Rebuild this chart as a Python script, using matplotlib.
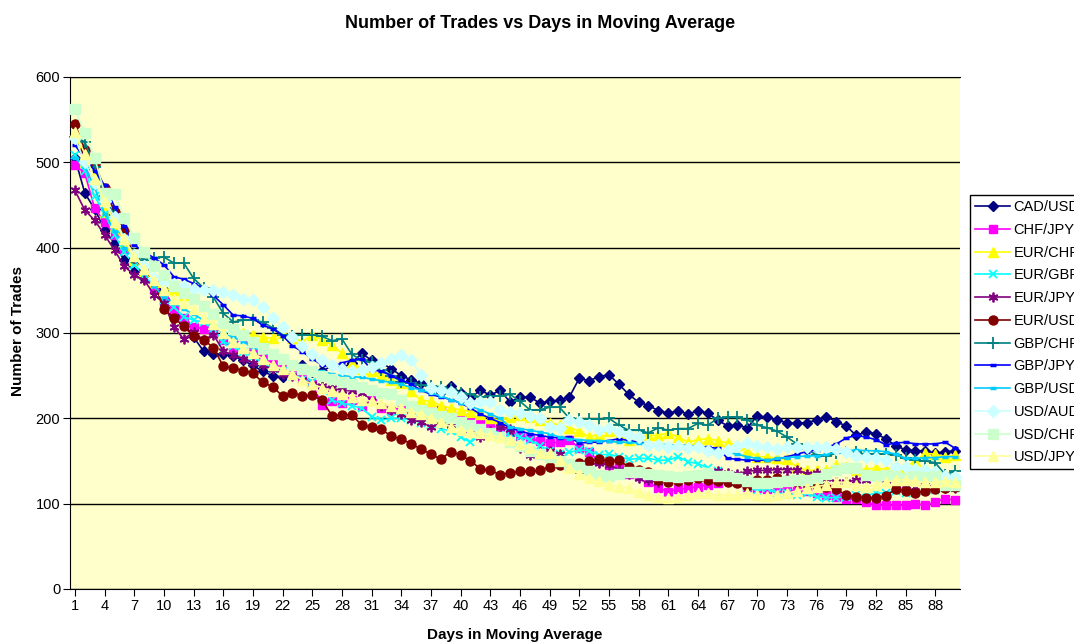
import matplotlib
matplotlib.use("Agg")
import matplotlib.pyplot as plt
import numpy as np

plt.rcParams['font.family'] = ['Liberation Sans', 'DejaVu Sans']

days = list(range(1, 91))

cad_usd = [505, 464, 445, 421, 405, 385, 372, 365, 355, 350,
           330, 312, 295, 279, 275, 275, 273, 268, 262, 255,
           250, 248, 252, 263, 254, 255, 262, 259, 265, 276,
           268, 265, 258, 250, 245, 241, 235, 231, 238, 230,
           224, 233, 227, 233, 219, 225, 225, 218, 220, 221,
           225, 247, 244, 249, 251, 240, 228, 219, 215, 209,
           206, 209, 205, 209, 206, 198, 191, 192, 189, 203,
           201, 198, 195, 194, 195, 198, 202, 196, 191, 180,
           184, 182, 176, 168, 163, 162, 162, 159, 161, 162]
chf_jpy = [497, 487, 446, 430, 415, 398, 385, 370, 352, 338,
           328, 318, 307, 305, 302, 292, 283, 298, 275, 270,
           265, 258, 255, 250, 240, 216, 220, 218, 221, 215,
           221, 212, 210, 212, 208, 205, 208, 210, 205, 202,
           198, 196, 192, 190, 185, 180, 177, 173, 171, 172,
           175, 165, 160, 150, 145, 142, 135, 132, 125, 118,
           114, 117, 118, 120, 122, 124, 128, 125, 120, 118,
           117, 118, 116, 115, 115, 113, 110, 108, 106, 105,
           102, 98, 98, 98, 98, 100, 98, 102, 106, 104]
eur_chf = [535, 500, 487, 442, 425, 405, 385, 372, 360, 352,
           350, 345, 341, 332, 322, 312, 305, 300, 298, 295,
           294, 300, 294, 290, 298, 292, 286, 276, 265, 258,
           255, 251, 245, 241, 232, 221, 220, 215, 212, 210,
           208, 205, 200, 198, 202, 204, 202, 198, 195, 192,
           189, 185, 178, 182, 185, 178, 175, 178, 180, 180,
           183, 178, 172, 175, 176, 174, 171, 169, 162, 155,
           155, 153, 152, 143, 139, 139, 140, 145, 143, 140,
           140, 142, 140, 145, 143, 150, 159, 158, 155, 157]
eur_gbp = [509, 490, 460, 440, 415, 395, 380, 368, 355, 339,
           330, 319, 315, 313, 305, 290, 285, 278, 272, 265,
           258, 255, 250, 245, 242, 235, 221, 218, 215, 212,
           202, 198, 200, 200, 198, 195, 192, 188, 185, 178,
           172, 180, 182, 180, 182, 178, 175, 168, 162, 158,
           160, 163, 162, 157, 158, 155, 152, 153, 153, 151,
           151, 155, 149, 147, 142, 138, 130, 125, 120, 115,
           118, 112, 112, 110, 112, 108, 107, 107, 108, 110,
           110, 112, 113, 115, 113, 112, 115, 116, 118, 118]
eur_jpy = [467, 444, 432, 415, 397, 378, 368, 362, 345, 335,
           307, 293, 301, 292, 298, 279, 274, 270, 265, 262,
           258, 252, 250, 245, 240, 238, 235, 233, 232, 230,
           222, 215, 210, 205, 198, 196, 190, 195, 192, 195,
           188, 178, 185, 190, 188, 165, 157, 160, 162, 158,
           143, 140, 145, 148, 145, 140, 135, 130, 128, 125,
           128, 130, 132, 133, 135, 138, 136, 135, 138, 139,
           139, 140, 140, 140, 135, 136, 130, 125, 125, 128,
           128, 130, 128, 125, 122, 120, 122, 120, 118, 118]
eur_usd = [545, 515, 498, 470, 442, 421, 388, 375, 360, 328,
           318, 308, 296, 292, 283, 261, 259, 256, 253, 242,
           237, 226, 230, 226, 227, 221, 203, 204, 204, 192,
           190, 187, 179, 176, 170, 164, 158, 152, 161, 157,
           150, 141, 139, 134, 136, 138, 138, 139, 143, 145,
           146, 148, 150, 152, 150, 151, 143, 140, 137, 128,
           125, 126, 128, 130, 128, 126, 125, 124, 121, 128,
           128, 130, 128, 125, 124, 122, 120, 117, 110, 108,
           107, 107, 109, 117, 115, 113, 115, 117, 118, 120]
gbp_chf = [530, 524, 495, 460, 438, 410, 392, 386, 388, 389,
           382, 382, 364, 353, 342, 323, 313, 315, 315, 313,
           306, 298, 296, 298, 298, 296, 291, 293, 275, 268,
           266, 257, 250, 243, 241, 239, 238, 237, 234, 230,
           228, 225, 226, 226, 228, 220, 210, 210, 213, 213,
           200, 199, 199, 199, 200, 192, 186, 186, 183, 189,
           186, 188, 188, 194, 192, 200, 201, 201, 198, 192,
           189, 185, 178, 170, 164, 157, 156, 159, 160, 160,
           158, 158, 158, 157, 153, 151, 150, 148, 134, 138]
gbp_jpy = [520, 505, 490, 473, 448, 425, 403, 395, 388, 380,
           366, 363, 358, 353, 344, 333, 321, 320, 317, 309,
           305, 297, 285, 278, 270, 262, 260, 265, 268, 270,
           257, 255, 250, 245, 240, 233, 228, 225, 222, 218,
           212, 205, 200, 195, 189, 185, 182, 180, 178, 177,
           178, 171, 172, 172, 174, 176, 174, 172, 170, 169,
           168, 168, 168, 167, 166, 165, 153, 152, 151, 151,
           151, 152, 155, 158, 161, 163, 166, 170, 177, 180,
           178, 175, 169, 171, 172, 170, 170, 170, 172, 165]
gbp_usd = [505, 495, 470, 440, 420, 400, 385, 370, 355, 342,
           335, 328, 322, 315, 308, 300, 295, 290, 283, 278,
           272, 268, 265, 262, 258, 255, 252, 250, 249, 248,
           246, 244, 242, 240, 236, 233, 230, 226, 222, 218,
           214, 210, 205, 200, 190, 188, 186, 184, 182, 178,
           176, 175, 174, 174, 173, 172, 172, 171, 170, 170,
           169, 169, 168, 167, 165, 162, 160, 158, 155, 153,
           151, 153, 154, 155, 156, 156, 158, 160, 162, 163,
           162, 162, 161, 158, 153, 153, 154, 154, 155, 155]
usd_aud = [528, 500, 476, 455, 436, 410, 391, 378, 365, 360,
           358, 355, 352, 350, 350, 348, 344, 340, 339, 330,
           318, 307, 295, 285, 275, 268, 262, 258, 256, 257,
           260, 265, 270, 274, 268, 251, 236, 233, 231, 225,
           218, 219, 219, 210, 208, 206, 203, 200, 190, 189,
           198, 196, 192, 186, 189, 184, 180, 178, 169, 169,
           166, 168, 165, 166, 162, 159, 163, 168, 171, 168,
           166, 164, 166, 166, 166, 166, 166, 164, 160, 156,
           155, 153, 151, 143, 143, 141, 139, 137, 132, 131]
usd_chf = [562, 534, 505, 464, 463, 435, 411, 395, 378, 368,
           355, 347, 340, 332, 322, 312, 305, 298, 290, 282,
           275, 270, 262, 258, 255, 250, 246, 243, 240, 237,
           233, 230, 228, 222, 215, 210, 206, 203, 200, 196,
           192, 188, 183, 178, 172, 168, 162, 158, 155, 150,
           147, 143, 138, 134, 132, 135, 137, 137, 135, 134,
           133, 131, 132, 134, 136, 133, 132, 130, 127, 124,
           124, 125, 126, 128, 128, 130, 135, 140, 142, 142,
           134, 133, 134, 133, 130, 132, 131, 132, 122, 122]
usd_jpy = [535, 510, 480, 455, 430, 410, 390, 375, 362, 350,
           340, 335, 328, 318, 310, 300, 290, 282, 276, 270,
           262, 258, 252, 245, 240, 236, 232, 228, 225, 222,
           220, 218, 215, 212, 208, 205, 200, 196, 190, 186,
           184, 183, 180, 178, 175, 170, 165, 159, 159, 151,
           142, 135, 130, 126, 122, 120, 118, 114, 110, 108,
           107, 108, 110, 112, 112, 110, 110, 110, 112, 110,
           109, 110, 112, 115, 118, 120, 122, 125, 125, 122,
           120, 122, 125, 128, 128, 126, 125, 125, 127, 125]

series_names = ["CAD/USD", "CHF/JPY", "EUR/CHF", "EUR/GBP", "EUR/JPY", "EUR/USD",
                "GBP/CHF", "GBP/JPY", "GBP/USD", "USD/AUD", "USD/CHF", "USD/JPY"]
series_values = [cad_usd, chf_jpy, eur_chf, eur_gbp, eur_jpy, eur_usd,
                 gbp_chf, gbp_jpy, gbp_usd, usd_aud, usd_chf, usd_jpy]

styles = [
    dict(color="#000080", marker="D", ms=5),
    dict(color="#FF00FF", marker="s", ms=6),
    dict(color="#FFFF00", marker="^", ms=7),
    dict(color="#00FFFF", marker="x", ms=6, mew=1.3),
    dict(color="#800080", marker=(6, 2, 0), ms=7, mew=1.3),
    dict(color="#800000", marker="o", ms=6.5),
    dict(color="#008080", marker="+", ms=8, mew=1.3),
    dict(color="#0000FF", marker="_", ms=5, mew=2.5),
    dict(color="#00CCFF", marker="_", ms=5, mew=2.5),
    dict(color="#CCFFFF", marker="D", ms=6),
    dict(color="#CCFFCC", marker="s", ms=7),
    dict(color="#FFFF99", marker="^", ms=7),
]

fig = plt.figure(figsize=(10.74, 6.44), dpi=100)
fig.patch.set_facecolor("white")
ax = fig.add_axes([70/1074, 1-589/644, 890/1074, 512/644])
ax.set_facecolor("#FFFFCC")

for i, (name, vals, st) in enumerate(zip(series_names, series_values, styles)):
    ax.plot(days, vals, color=st["color"], marker=st["marker"], markersize=st["ms"],
            markeredgewidth=st.get("mew", 1.0), markerfacecolor=st["color"],
            markeredgecolor=st["color"], linewidth=1.2, label=name, zorder=3+i,
            clip_on=False)

ax.set_xlim(0.5, 90.5)
ax.set_ylim(0, 600)
ax.set_yticks(range(0, 601, 100))
xt = list(range(1, 91, 3))
ax.set_xticks(xt)
ax.set_xticklabels([str(v) for v in xt], fontsize=10.5)
ax.tick_params(axis='y', labelsize=10.5, length=5, direction='out', pad=2)
ax.tick_params(axis='x', length=5, direction='out', pad=2)
ax.yaxis.grid(True, color="black", linewidth=1.0, zorder=1)
ax.set_axisbelow(True)
ax.spines["right"].set_visible(False)
ax.spines["top"].set_color("black")
ax.spines["left"].set_color("black")
ax.spines["bottom"].set_color("black")

fig.text(540/1074, 1-23/644, "Number of Trades vs Days in Moving Average",
         ha="center", va="center", fontsize=13, fontweight="bold")
fig.text(515/1074, 1-635/644, "Days in Moving Average",
         ha="center", va="center", fontsize=11, fontweight="bold")
fig.text(18/1074, 1-331/644, "Number of Trades", rotation=90,
         ha="center", va="center", fontsize=11, fontweight="bold")

leg = ax.legend(loc="upper left", bbox_to_anchor=(970/1074, 1-195/644),
                bbox_transform=fig.transFigure, fontsize=10.5, frameon=True,
                fancybox=False, edgecolor="black", framealpha=1,
                borderpad=0.35, labelspacing=0.6, handlelength=2.4,
                handletextpad=0.25, borderaxespad=0)
leg.get_frame().set_linewidth(1.0)

fig.savefig("out.png", dpi=100)
